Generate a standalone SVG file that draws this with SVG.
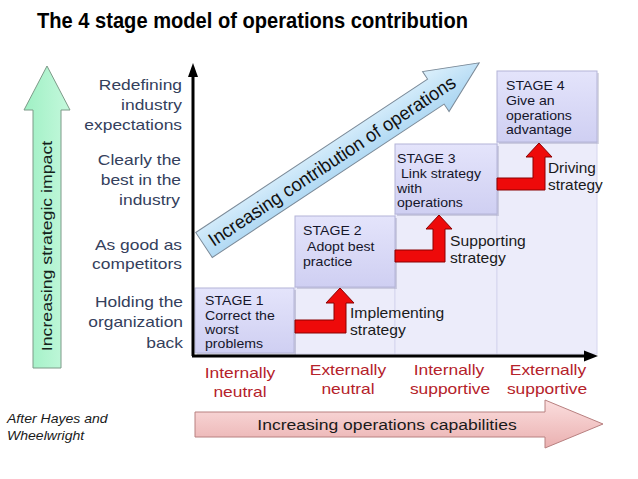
<svg xmlns="http://www.w3.org/2000/svg" width="638" height="479" viewBox="0 0 638 479">
<defs>
<linearGradient id="gStage" x1="0" y1="0" x2="0" y2="1"><stop offset="0" stop-color="#e4e4fb"/><stop offset="1" stop-color="#cfcff2"/></linearGradient>
<linearGradient id="gGreen" x1="0" y1="0" x2="1" y2="0"><stop offset="0" stop-color="#9ff0c4"/><stop offset="1" stop-color="#c4f8dc"/></linearGradient>
<linearGradient id="gBlue" x1="0" y1="0" x2="0" y2="1"><stop offset="0" stop-color="#dcf0fc"/><stop offset="1" stop-color="#a8d4f1"/></linearGradient>
<linearGradient id="gPink" x1="0" y1="0" x2="0" y2="1"><stop offset="0" stop-color="#fbdede"/><stop offset="1" stop-color="#eab0b0"/></linearGradient>
</defs>
<style>
text{font-family:"Liberation Sans",Arial,sans-serif}
.title{font-size:21.5px;font-weight:bold;fill:#000}
.lbl{font-size:15px;fill:#34405c;text-anchor:end}
.cap{font-size:15px;fill:#b5222a;text-anchor:middle}
.st{font-size:12.5px;fill:#15152a}
.al{font-size:14px;fill:#1a1a1a}
.col{fill:#ececfa;stroke:#d6d6ee;stroke-width:1}
.stage{fill:url(#gStage);stroke:#b4b4d8;stroke-width:1}
.shadow{fill:#9090b0;opacity:0.35}
.red{fill:#ee0a0a;stroke:#8a0000;stroke-width:1}
.axis{stroke:#000;stroke-width:3;fill:none}
</style>

<text class="title" x="37" y="28" textLength="431" lengthAdjust="spacingAndGlyphs">The 4 stage model of operations contribution</text>

<g id="impact-arrow">
<polygon points="47,66 24,110 33,110 33,368 61,368 61,110 70,110" fill="url(#gGreen)" stroke="#7d9a88" stroke-width="1"/>
<text transform="translate(52,246) rotate(-90) scale(1.18,1)" text-anchor="middle" style="font-size:15px;fill:#14221a">Increasing strategic impact</text>
</g>

<g id="levels">
<text class="lbl" transform="translate(182,90) scale(1.16,1)">Redefining</text>
<text class="lbl" transform="translate(182,110) scale(1.16,1)">industry</text>
<text class="lbl" transform="translate(182,130) scale(1.16,1)">expectations</text>
<text class="lbl" transform="translate(181,165) scale(1.16,1)">Clearly the</text>
<text class="lbl" transform="translate(181,185) scale(1.16,1)">best in the</text>
<text class="lbl" transform="translate(180,205) scale(1.16,1)">industry</text>
<text class="lbl" transform="translate(182,250) scale(1.16,1)">As good as</text>
<text class="lbl" transform="translate(182,269) scale(1.16,1)">competitors</text>
<text class="lbl" transform="translate(183,307) scale(1.16,1)">Holding the</text>
<text class="lbl" transform="translate(183,327) scale(1.16,1)">organization</text>
<text class="lbl" transform="translate(183,348) scale(1.16,1)">back</text>
</g>

<g id="columns">
<rect class="col" x="295" y="287" width="100" height="67"/>
<rect class="col" x="395" y="214" width="102" height="140"/>
<rect class="col" x="497" y="142" width="100" height="212"/>
</g>

<g id="contribution-arrow" transform="translate(204,245) rotate(-33.5)">
<polygon points="0,-15 278,-15 278,-24 330,0 278,24 278,15 0,15" fill="url(#gBlue)" stroke="#7b8a98" stroke-width="1"/>
<text x="7" y="7" textLength="292" lengthAdjust="spacingAndGlyphs" style="font-size:19px;fill:#111">Increasing contribution of operations</text>
</g>

<g id="stage1">
<rect class="shadow" x="197" y="290" width="99" height="65"/>
<rect class="stage" x="195" y="288" width="99" height="65"/>
<text class="st" transform="translate(205,305) scale(1.13,1)">STAGE 1</text>
<text class="st" transform="translate(205,320) scale(1.13,1)">Correct the</text>
<text class="st" transform="translate(205,334) scale(1.13,1)">worst</text>
<text class="st" transform="translate(205,348) scale(1.13,1)">problems</text>
</g>

<g id="stage2">
<rect class="shadow" x="297" y="218" width="100" height="71"/>
<rect class="stage" x="295" y="216" width="100" height="71"/>
<text class="st" transform="translate(303,235) scale(1.13,1)">STAGE 2</text>
<text class="st" transform="translate(307,251) scale(1.13,1)">Adopt best</text>
<text class="st" transform="translate(303,266) scale(1.13,1)">practice</text>
</g>

<g id="stage3">
<rect class="shadow" x="397" y="146" width="102" height="70"/>
<rect class="stage" x="395" y="144" width="102" height="70"/>
<text class="st" transform="translate(397,163) scale(1.13,1)">STAGE 3</text>
<text class="st" transform="translate(401,178) scale(1.13,1)">Link strategy</text>
<text class="st" transform="translate(397,193) scale(1.13,1)">with</text>
<text class="st" transform="translate(397,207) scale(1.13,1)">operations</text>
</g>

<g id="stage4">
<rect class="shadow" x="499" y="73" width="100" height="71"/>
<rect class="stage" x="497" y="71" width="100" height="71"/>
<text class="st" transform="translate(506,90) scale(1.13,1)">STAGE 4</text>
<text class="st" transform="translate(506,105) scale(1.13,1)">Give an</text>
<text class="st" transform="translate(506,120) scale(1.13,1)">operations</text>
<text class="st" transform="translate(506,134) scale(1.13,1)">advantage</text>
</g>

<g id="connectors">
<polygon class="red" points="295,320 334,320 334,303 326,303 340,288 354,303 346,303 346,333 295,333"/>
<polygon class="red" points="395,250 433,250 433,229 426,229 439,215 452,229 445,229 445,262 395,262"/>
<polygon class="red" points="497,178 533,178 533,157 526,157 539,143 552,157 545,157 545,190 497,190"/>
<line class="axis" x1="193" y1="356" x2="193" y2="74"/>
<polygon points="193,63 188,77 198,77" fill="#000"/>
<line class="axis" x1="192" y1="356" x2="586" y2="356"/>
<polygon points="598,356 584,350.5 584,361.5" fill="#000"/>
</g>

<g id="arrow-labels">
<text class="al" transform="translate(350,318) scale(1.12,1)">Implementing</text>
<text class="al" transform="translate(350,335) scale(1.12,1)">strategy</text>
<text class="al" transform="translate(450,246) scale(1.12,1)">Supporting</text>
<text class="al" transform="translate(450,263) scale(1.12,1)">strategy</text>
<text class="al" transform="translate(548,173) scale(1.1,1)">Driving</text>
<text class="al" transform="translate(548,190) scale(1.1,1)">strategy</text>
</g>

<g id="capabilities">
<text class="cap" transform="translate(240,378) scale(1.16,1)">Internally</text>
<text class="cap" transform="translate(240,397) scale(1.16,1)">neutral</text>
<text class="cap" transform="translate(348,375) scale(1.16,1)">Externally</text>
<text class="cap" transform="translate(348,394) scale(1.16,1)">neutral</text>
<text class="cap" transform="translate(449,375) scale(1.16,1)">Internally</text>
<text class="cap" transform="translate(450,394) scale(1.16,1)">supportive</text>
<text class="cap" transform="translate(548,375) scale(1.16,1)">Externally</text>
<text class="cap" transform="translate(547,394) scale(1.16,1)">supportive</text>
</g>

<g id="capabilities-arrow">
<polygon points="195,412 545,412 545,400 603,424 545,448 545,437 195,437" fill="url(#gPink)" stroke="#b88080" stroke-width="1"/>
<text transform="translate(387,430) scale(1.17,1)" text-anchor="middle" style="font-size:15px;fill:#1a1a1a">Increasing operations capabilities</text>
</g>

<g id="source">
<text transform="translate(7,423) scale(1.08,1)" style="font-size:13px;font-style:italic;fill:#1a1a1a">After Hayes and</text>
<text transform="translate(7,440) scale(1.08,1)" style="font-size:13px;font-style:italic;fill:#1a1a1a">Wheelwright</text>
</g>
</svg>
